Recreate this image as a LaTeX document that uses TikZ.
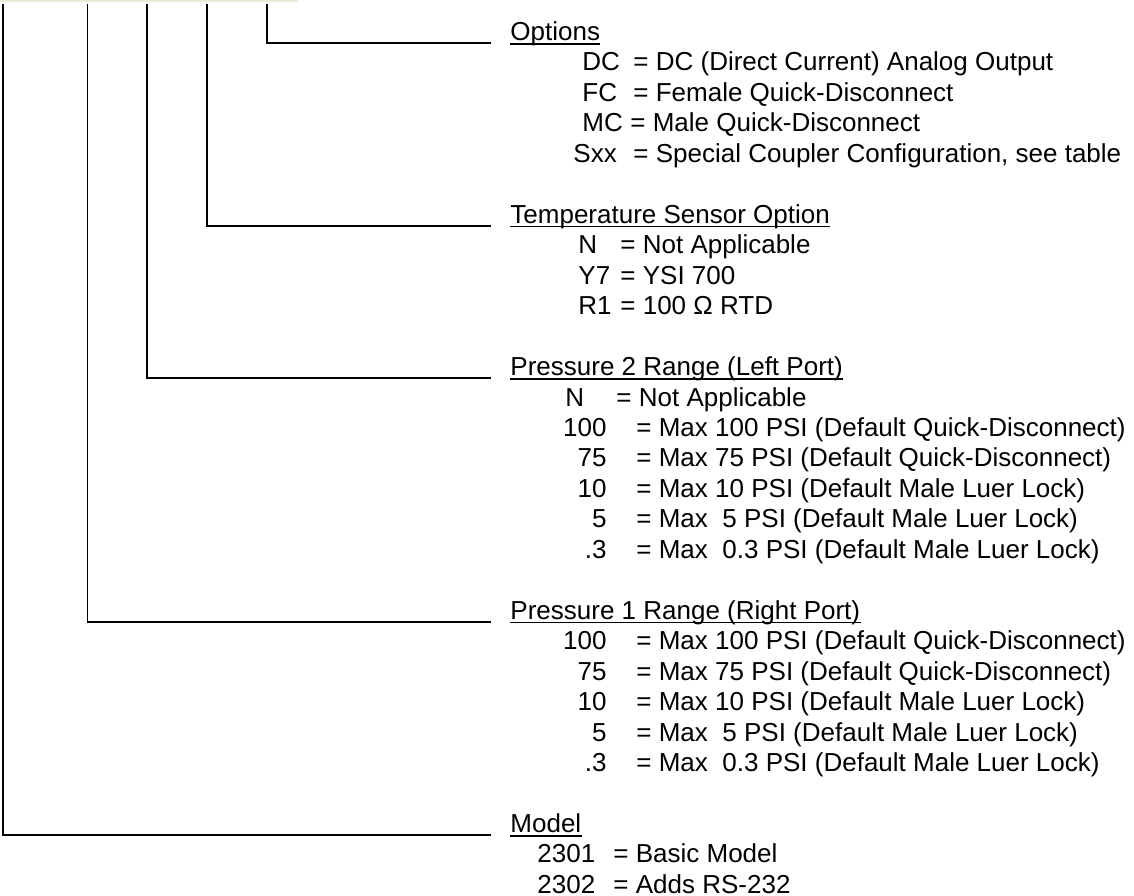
\documentclass[tikz,border=0pt]{standalone}
\usepackage{fontspec}
\setmainfont{Liberation Sans}
\definecolor{beige}{RGB}{236,233,216}
\begin{document}
\begin{tikzpicture}[x=0.4615pt,y=-0.4615pt]
    \useasboundingbox (0,0) rectangle (1134,896);
    \clip (0,0) rectangle (1134,896);
    \tikzstyle{trait}=[line width=0.92pt]
    \tikzstyle{titre}=[anchor=base west,inner sep=0pt,font=\fontsize{12}{14}\selectfont]
    \tikzstyle{souligne}=[line width=0.85pt]
    \tikzstyle{code}=[anchor=base west,inner sep=0pt,font=\fontsize{12}{14}\selectfont]
    \tikzstyle{coder}=[anchor=base east,inner sep=0pt,font=\fontsize{12}{14}\selectfont]
    \tikzstyle{desc}=[anchor=base west,inner sep=0pt,font=\fontsize{12}{14}\selectfont]

    %%%%%%%%%%%%%%%%%%%%%%%%%%%%%%%%%%%%%% Cadre
    \draw[beige,line width=1.1pt] (-10,-10) rectangle (296.5,1.3);

    %%%%%%%%%%%%%%%%%%%%%%%%%%%%%%%%%%%%%% Titres
    \node[titre] (opt) at (510,40.5) {Options};
    \node[titre] (temp) at (510,223.3) {Temperature Sensor Option};
    \node[titre] (pdeux) at (510,375.6) {Pressure 2 Range (Left Port)};
    \node[titre] (pun) at (510,619.2) {Pressure 1 Range (Right Port)};
    \node[titre] (model) at (510,832.5) {Model};

    \draw[souligne] ([yshift=-1.5pt]opt.base west) -- ([yshift=-1.5pt]opt.base east);
    \draw[souligne] ([yshift=-1.5pt]temp.base west) -- ([yshift=-1.5pt]temp.base east);
    \draw[souligne] ([yshift=-1.5pt]pdeux.base west) -- ([yshift=-1.5pt]pdeux.base east);
    \draw[souligne] ([yshift=-1.5pt]pun.base west) -- ([yshift=-1.5pt]pun.base east);
    \draw[souligne] ([yshift=-1.5pt]model.base west) -- ([yshift=-1.5pt]model.base east);

    %%%%%%%%%%%%%%%%%%%%%%%%%%%%%%%%%%%%%% Traits
    \coordinate (h1) at (267,4);
    \coordinate (h2) at (207,4);
    \coordinate (h3) at (147,4);
    \coordinate (h4) at (87.5,4);
    \coordinate (h5) at (3,4);

    \draw[trait] (h1) |- ([shift={(-19,2.5)}]opt.base west);
    \draw[trait] (h2) |- ([shift={(-19,2.5)}]temp.base west);
    \draw[trait] (h3) |- ([shift={(-19,2.5)}]pdeux.base west);
    \draw[trait] (h4) |- ([shift={(-19,2.5)}]pun.base west);
    \draw[trait] (h5) |- ([shift={(-19,2.5)}]model.base west);

    %%%%%%%%%%%%%%%%%%%%%%%%%%%%%%%%%%%%%% Options
    \node[code] (k1) at (582,71.0) {DC};
    \node[desc] (t1) at (633,71.0) {= DC (Direct Current) Analog Output};
    \node[code] (k2) at (582,101.4) {FC};
    \node[desc] (t2) at (633,101.4) {= Female Quick-Disconnect};
    \node[code] (k3) at (582,131.9) {MC};
    \node[desc] (t3) at (630,131.9) {= Male Quick-Disconnect};
    \node[code] (k4) at (573,162.3) {Sxx};
    \node[desc] (t4) at (633,162.3) {= Special Coupler Configuration, see table};

    %%%%%%%%%%%%%%%%%%%%%%%%%%%%%%%%%%%%%% Temperature
    \node[code] (k5) at (578,253.7) {N};
    \node[desc] (t5) at (620,253.7) {= Not Applicable};
    \node[code] (k6) at (578,284.2) {Y7};
    \node[desc] (t6) at (620,284.2) {= YSI 700};
    \node[code] (k7) at (578,314.6) {R1};
    \node[desc] (t7) at (620,314.6) {= 100 Ω RTD};

    %%%%%%%%%%%%%%%%%%%%%%%%%%%%%%%%%%%%%% Pression 2
    \node[code] (k8) at (565,406.0) {N};
    \node[desc] (t8) at (616,406.0) {= Not Applicable};
    \node[coder] (k9) at (607,436.5) {100};
    \node[desc] (t9) at (636,436.5) {= Max 100 PSI (Default Quick-Disconnect)};
    \node[coder] (k10) at (607,466.9) {75};
    \node[desc] (t10) at (636,466.9) {= Max 75 PSI (Default Quick-Disconnect)};
    \node[coder] (k11) at (607,497.4) {10};
    \node[desc] (t11) at (636,497.4) {= Max 10 PSI (Default Male Luer Lock)};
    \node[coder] (k12) at (607,527.9) {5};
    \node[desc] (t12) at (636,527.9) {= Max\ \ 5 PSI (Default Male Luer Lock)};
    \node[coder] (k13) at (607,558.3) {.3};
    \node[desc] (t13) at (636,558.3) {= Max\ \ 0.3 PSI (Default Male Luer Lock)};

    %%%%%%%%%%%%%%%%%%%%%%%%%%%%%%%%%%%%%% Pression 1
    \node[coder] (k14) at (607,649.7) {100};
    \node[desc] (t14) at (636,649.7) {= Max 100 PSI (Default Quick-Disconnect)};
    \node[coder] (k15) at (607,680.2) {75};
    \node[desc] (t15) at (636,680.2) {= Max 75 PSI (Default Quick-Disconnect)};
    \node[coder] (k16) at (607,710.6) {10};
    \node[desc] (t16) at (636,710.6) {= Max 10 PSI (Default Male Luer Lock)};
    \node[coder] (k17) at (607,741.1) {5};
    \node[desc] (t17) at (636,741.1) {= Max\ \ 5 PSI (Default Male Luer Lock)};
    \node[coder] (k18) at (607,771.5) {.3};
    \node[desc] (t18) at (636,771.5) {= Max\ \ 0.3 PSI (Default Male Luer Lock)};

    %%%%%%%%%%%%%%%%%%%%%%%%%%%%%%%%%%%%%% Modele
    \node[code] (k19) at (537,862.9) {2301};
    \node[desc] (t19) at (613,862.9) {= Basic Model};
    \node[code] (k20) at (537,893.4) {2302};
    \node[desc] (t20) at (613,893.4) {= Adds RS-232};
\end{tikzpicture}
\end{document}
